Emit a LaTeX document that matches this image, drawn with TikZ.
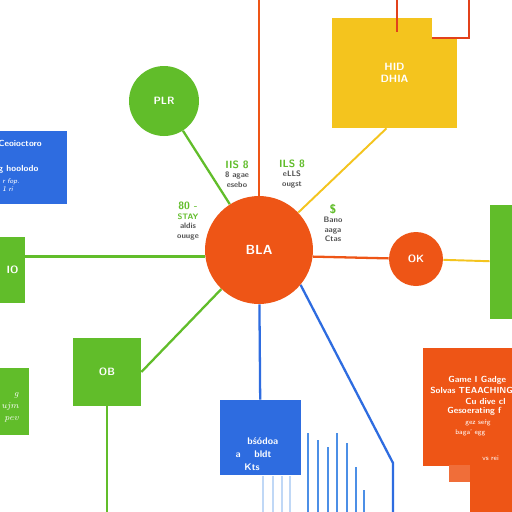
\documentclass[tikz,border=0pt]{standalone}
\usepackage{xcolor}
\usepackage{tikz}

\definecolor{hubOrange}{HTML}{EE5516}
\definecolor{leafGreen}{HTML}{61BD2A}
\definecolor{boxYellow}{HTML}{F4C41E}
\definecolor{boxBlue}{HTML}{2E6CE0}
\definecolor{barBlue}{HTML}{4C8FE6}
\definecolor{wireRed}{HTML}{E2411B}
\definecolor{noteGray}{HTML}{505050}

\begin{document}
\begin{tikzpicture}[x=0.02cm, y=-0.02cm]
        \tikzstyle{disc}=[circle, draw=none, text=white, inner sep=0pt, font=\sffamily\bfseries\fontsize{6}{7}\selectfont]
        \tikzstyle{block}=[rectangle, draw=none, text=white, inner sep=1pt, align=center, font=\sffamily\bfseries\fontsize{6}{7}\selectfont]
        \tikzstyle{boxtext}=[inner sep=0pt, text=white, font=\sffamily\bfseries\fontsize{5}{6}\selectfont]
        \tikzstyle{note}=[inner sep=0pt, align=center, text=noteGray, font=\sffamily\bfseries\fontsize{4.5}{5.4}\selectfont]
        \tikzstyle{wire}=[line width=1.3pt]

        \clip (0,0) rectangle (512,512);
        \fill[white] (0,0) rectangle (512,512);

        % Hub
        \draw node at (259,250) [disc, fill=hubOrange, minimum size=2.16cm, font=\sffamily\bfseries\fontsize{7.5}{9}\selectfont] (bla) {BLA};

        % Circles
        \draw node at (164,101) [disc, fill=leafGreen, minimum size=1.4cm] (plr) {PLR};
        \draw node at (416,259) [disc, fill=hubOrange, minimum size=1.08cm] (ok) {OK};

        % Top boxes
        \draw node at (394.5,73) [block, fill=boxYellow, minimum width=2.5cm, minimum height=2.2cm] (hid) {HID\\DHIA};
        \fill[white] (432,16) rectangle (459,38);
        \coordinate (red_0) at (397,0);
        \coordinate (red_end) at (397,32);
        \coordinate (red_1) at (469,0);
        \coordinate (notch) at (432,38);

        \draw node at (22,167.5) [block, fill=boxBlue, minimum width=1.8cm, minimum height=1.46cm] (tl) {};
        \node at (-2,143) [boxtext, anchor=west] (tl_a) {Ceoioctoro};
        \node at (-2,169) [boxtext, anchor=west] (tl_b) {g hoolodo};
        \node at (2,185) [boxtext, anchor=west, align=left, font=\sffamily\itshape\fontsize{4}{5}\selectfont] (tl_c) {r fop.\\1 ri};

        % Side boxes
        \draw node at (12.5,270) [block, fill=leafGreen, minimum width=0.5cm, minimum height=1.32cm] (gl) {IO};
        \draw node at (515,262) [block, fill=leafGreen, minimum width=1cm, minimum height=2.28cm] (gr) {};

        % Bottom boxes
        \draw node at (107,372) [block, fill=leafGreen, minimum size=1.36cm] (ob) {OB};
        \draw node at (0,401) [block, fill=leafGreen, minimum width=1.16cm, minimum height=1.34cm] (gbl) {};
        \node at (19,407) [boxtext, anchor=east, align=right, font=\itshape\fontsize{5}{6.8}\selectfont] (gbl_txt) {g\\ujm\\pev};

        \draw node at (260.5,437.5) [block, fill=boxBlue, minimum width=1.62cm, minimum height=1.5cm] (cbox) {};
        \node at (257,454) [boxtext, align=left, font=\sffamily\bfseries\fontsize{5.5}{7.5}\selectfont] (cbox_txt) {\hspace*{1.2em}bśódoa\\a\hspace{1.4em}bldt\\\hspace*{0.9em}Kts};

        \draw node at (481.5,407) [block, fill=hubOrange, minimum width=2.34cm, minimum height=2.36cm] (game) {};
        \fill[hubOrange] (470,465) rectangle (512,512);
        \fill[hubOrange!85] (449,465) rectangle (470,482);
        \node at (448,380) [boxtext, anchor=west] (game_a) {Game I Gadge};
        \node at (430,390.5) [boxtext, anchor=west] (game_b) {Solvas TEAACHING};
        \node at (465,401) [boxtext, anchor=west] (game_c) {Cu dive cl};
        \node at (447,411.5) [boxtext, anchor=west] (game_d) {Gesoerating f};
        \node at (465,423) [boxtext, anchor=west, font=\sffamily\fontsize{4}{5}\selectfont] (game_e) {gez seŕg};
        \node at (455,433) [boxtext, anchor=west, font=\sffamily\fontsize{4}{5}\selectfont] (game_f) {baga' egg};
        \node at (482,458) [boxtext, anchor=west, font=\sffamily\fontsize{4}{5}\selectfont] (game_g) {vs rei};

        % Notes
        \node at (237,174) [note] (note_0) {{\color{leafGreen}\fontsize{6}{6.5}\selectfont IIS 8}\\8 agae\\esebo};
        \node at (292,174) [note] (note_1) {{\color{leafGreen}\fontsize{6}{6.5}\selectfont ILS 8}\\eLLS\\ougst};
        \node at (188,221) [note] (note_2) {{\color{leafGreen}\fontsize{6}{6.5}\selectfont 80 -}\\{\color{leafGreen}STAY}\\aldis\\ouuge};
        \node at (333,223) [note] (note_3) {{\color{leafGreen}\fontsize{7}{7.5}\selectfont \$}\\Bano\\aaga\\Ctas};

        % Free ends
        \coordinate (top_0) at (259,0);
        \coordinate (ob_0) at (107,512);
        \coordinate (bend_0) at (393,463);
        \coordinate (bend_1) at (393,512);

        % Hub -> leaves
        \draw [wire, hubOrange, line width=1.1pt] (bla) -- (top_0);
        \draw [wire, leafGreen] (bla) -- (plr);
        \draw [wire, boxYellow, line width=1.1pt] (bla) -- ([xshift=-0.16cm]hid.south);
        \draw [wire, leafGreen] (bla.187) -- (gl.east |- bla.187);
        \draw [wire, hubOrange] (bla.-7) -- (ok);
        \draw [wire, boxYellow, line width=1.1pt] (ok) -- (gr);
        \draw [wire, leafGreen] (bla) -- (ob.east);
        \draw [wire, leafGreen] (ob) -- (ob_0);
        \draw [wire, boxBlue] (bla) -- (cbox);
        \draw [wire, boxBlue] (bla.-40) -- (bend_0) -- (bend_1);

        % Top wires
        \draw [wire, wireRed, line width=1.1pt] (red_0) -- (red_end);
        \draw [wire, wireRed, line width=1.1pt] (red_1) |- (notch);

        % Bars
        \foreach \x/\y in {308/433, 318/440, 328/447, 337/433, 347/443, 356/467, 364/490}
        \draw [barBlue, line width=0.8pt] (\x,\y) -- (\x,512);
        \foreach \x in {263,273,282,290}
        \draw [barBlue!35, line width=0.8pt] (\x,476) -- (\x,512);

    \end{tikzpicture}
\end{document}
